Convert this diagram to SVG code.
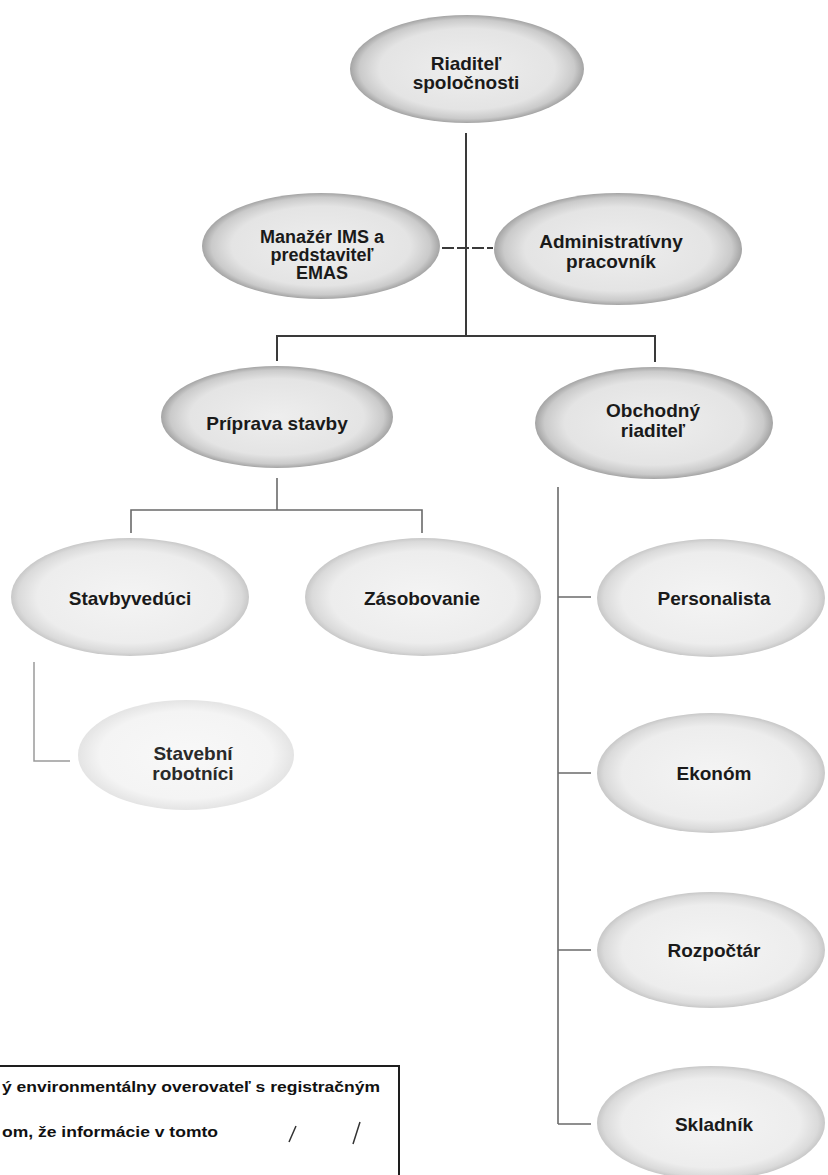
<svg xmlns="http://www.w3.org/2000/svg" width="828" height="1175" viewBox="0 0 828 1175">
<defs>
<radialGradient id="gDark" cx="50%" cy="50%" r="50%">
<stop offset="0" stop-color="#eeeeee"/>
<stop offset="0.75" stop-color="#e4e4e4"/>
<stop offset="0.92" stop-color="#cacaca"/>
<stop offset="1" stop-color="#a4a4a4"/>
</radialGradient>
<radialGradient id="gMid" cx="50%" cy="50%" r="50%">
<stop offset="0" stop-color="#f4f4f4"/>
<stop offset="0.78" stop-color="#ededed"/>
<stop offset="0.94" stop-color="#dadada"/>
<stop offset="1" stop-color="#c8c8c8"/>
</radialGradient>
<radialGradient id="gLight" cx="50%" cy="50%" r="50%">
<stop offset="0" stop-color="#f8f8f8"/>
<stop offset="0.8" stop-color="#f4f4f4"/>
<stop offset="1" stop-color="#e4e4e4"/>
</radialGradient>
</defs>
<style>
text{font-family:"Liberation Sans",Arial,sans-serif;font-weight:bold;font-size:19px;fill:#1a1a1a;text-anchor:middle}
.sm{font-size:18px}
.dark{fill:url(#gDark)}
.mid{fill:url(#gMid)}
.light{fill:url(#gLight)}
.c1{stroke:#3a3a3a;stroke-width:2;fill:none}
.c2{stroke:#6a6a6a;stroke-width:1.6;fill:none}
.c3{stroke:#9a9a9a;stroke-width:1.5;fill:none}
.note{font-family:"Liberation Sans Narrow","Liberation Sans",Arial,sans-serif;font-size:15px;text-anchor:start;fill:#111}
</style>
<rect width="828" height="1175" fill="#ffffff"/>
<g id="connectors">
<line class="c1" x1="466" y1="133" x2="466" y2="336"/>
<line class="c1" x1="442" y1="248" x2="493" y2="248" stroke-dasharray="12 3"/>
<polyline class="c1" points="277,361 277,336 655,336 655,362"/>
<line class="c2" x1="277" y1="478" x2="277" y2="510"/>
<polyline class="c2" points="131,533 131,510 422,510 422,533"/>
<line class="c2" x1="558" y1="487" x2="558" y2="1124"/>
<line class="c2" x1="558" y1="597" x2="591" y2="597"/>
<line class="c2" x1="558" y1="773" x2="591" y2="773"/>
<line class="c2" x1="558" y1="950" x2="591" y2="950"/>
<line class="c2" x1="558" y1="1124" x2="591" y2="1124"/>
<polyline class="c3" points="34,662 34,761 70,761"/>
</g>
<g id="n-riaditel">
<ellipse class="dark" cx="467" cy="69" rx="117" ry="54"/>
<text x="466" y="70">Riaditeľ</text>
<text x="466" y="89">spoločnosti</text>
</g>
<g id="n-manazer">
<ellipse class="dark" cx="321" cy="246" rx="119" ry="53"/>
<text class="sm" x="322" y="243">Manažér IMS a</text>
<text class="sm" x="322" y="261">predstaviteľ</text>
<text class="sm" x="322" y="279">EMAS</text>
</g>
<g id="n-admin">
<ellipse class="dark" cx="618" cy="249" rx="124" ry="56"/>
<text x="611" y="248">Administratívny</text>
<text x="611" y="268">pracovník</text>
</g>
<g id="n-priprava">
<ellipse class="dark" cx="277" cy="417" rx="116" ry="51"/>
<text x="277" y="430">Príprava stavby</text>
</g>
<g id="n-obchodny">
<ellipse class="dark" cx="654" cy="423" rx="119" ry="56"/>
<text x="653" y="417">Obchodný</text>
<text x="653" y="437">riaditeľ</text>
</g>
<g id="n-stavbyveduci">
<ellipse class="mid" cx="130" cy="597" rx="119" ry="59"/>
<text x="130" y="605">Stavbyvedúci</text>
</g>
<g id="n-zasobovanie">
<ellipse class="mid" cx="423" cy="597" rx="118" ry="59"/>
<text x="422" y="605">Zásobovanie</text>
</g>
<g id="n-robotnici">
<ellipse class="light" cx="186" cy="755" rx="108" ry="55"/>
<text x="193" y="760" style="fill:#2a2a2a">Stavební</text>
<text x="193" y="780" style="fill:#2a2a2a">robotníci</text>
</g>
<g id="n-personalista">
<ellipse class="mid" cx="711" cy="598" rx="114" ry="59"/>
<text x="714" y="605">Personalista</text>
</g>
<g id="n-ekonom">
<ellipse class="mid" cx="711" cy="773" rx="114" ry="60"/>
<text x="714" y="780">Ekonóm</text>
</g>
<g id="n-rozpoctar">
<ellipse class="mid" cx="711" cy="950" rx="114" ry="58"/>
<text x="714" y="957">Rozpočtár</text>
</g>
<g id="n-skladnik">
<ellipse class="mid" cx="711" cy="1123" rx="114" ry="57"/>
<text x="714" y="1131">Skladník</text>
</g>
<g id="note-box">
<rect x="-3" y="1066" width="402" height="125" fill="none" stroke="#1e1e1e" stroke-width="2"/>
<text class="note" x="2" y="1092" textLength="378" lengthAdjust="spacingAndGlyphs">ý environmentálny overovateľ s registračným</text>
<text class="note" x="2" y="1137" textLength="216" lengthAdjust="spacingAndGlyphs">om, že informácie v tomto</text>
<path d="M296,1126 L289,1142 M360,1122 L353,1144" stroke="#333" stroke-width="1.5" fill="none"/>
</g>
</svg>
